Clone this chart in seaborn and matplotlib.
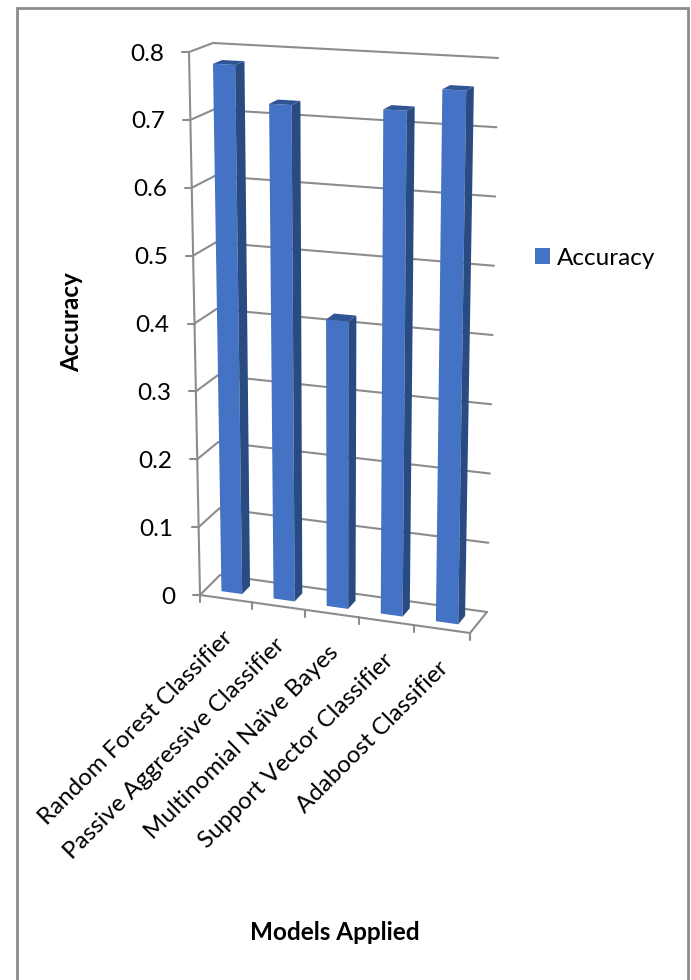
import numpy as np
import pandas as pd
import seaborn as sns
import matplotlib
import matplotlib.pyplot as plt
from matplotlib.patches import Polygon, Rectangle
from matplotlib.transforms import Transform, IdentityTransform

matplotlib.use('Agg')

# Chart data
models = ['Random Forest Classifier', 'Passive Aggressive Classifier',
          'Multinomial Naïve Bayes', 'Support Vector Classifier', 'Adaboost Classifier']
accuracy = [0.78, 0.726, 0.417, 0.728, 0.762]
y_ticks = [0, 0.1, 0.2, 0.3, 0.4, 0.5, 0.6, 0.7, 0.8]

W, H = 691, 980
GRID = '#8c8c8c'
FRONT = '#4472C4'
SIDE = '#2A4A82'
TOP = '#2F5597'

# Box corners in image pixels: (depth, height, left/right)
corners = np.array([
    [[[200, 595], [470, 633]], [[189, 52], [479, 68]]],   # front wall
    [[[220, 575], [487, 612]], [[213, 43], [498, 58]]],   # back wall
], dtype=float)


def project(x, y, z):
    # x in category units, y in accuracy units, z 0 at front and 1 at back
    x, y, z = np.asarray(x, float), np.asarray(y, float), np.asarray(z, float)
    t = (x + 0.5) / len(models)
    u = (t / (1 + 0.048 * (1 - t)))[..., None]
    v = (y / 0.8)[..., None]
    d = (z * np.ones_like(x))[..., None]
    low = corners[0, 0, 0] * (1 - u) + corners[0, 0, 1] * u
    high = corners[0, 1, 0] * (1 - u) + corners[0, 1, 1] * u
    front = low * (1 - v) + high * v
    low = corners[1, 0, 0] * (1 - u) + corners[1, 0, 1] * u
    high = corners[1, 1, 0] * (1 - u) + corners[1, 1, 1] * u
    back = low * (1 - v) + high * v
    p = front * (1 - d) + back * d
    return np.stack([p[..., 0], H - p[..., 1]], axis=-1)


class Wall(Transform):
    # maps the seaborn data coords on to a plane at fixed depth
    input_dims = 2
    output_dims = 2

    def __init__(self, z):
        super().__init__()
        self.z = z

    def transform_non_affine(self, values):
        values = np.asarray(values, float)
        return project(values[:, 0], values[:, 1], self.z)


def line3d(ax, a, b, lw=1.5):
    pts = project(np.array([a[0], b[0]]), np.array([a[1], b[1]]), np.array([a[2], b[2]]))
    ax.plot(pts[:, 0], pts[:, 1], color=GRID, lw=lw, transform=IdentityTransform(),
            clip_on=False, zorder=1, solid_capstyle='round')


sns.set_theme(style='white')
plt.rcParams['font.family'] = ['Lato', 'DejaVu Sans']

df = pd.DataFrame({'Model': models, 'Accuracy': accuracy})

fig = plt.figure(figsize=(W / 100, H / 100), dpi=100)
ax = fig.add_axes([0, 0, 1, 1])
sns.barplot(data=df, x='Model', y='Accuracy', color=FRONT, saturation=1, width=0.4,
            label='Accuracy', ax=ax, zorder=3)
ax.set_axis_off()

x_lo, x_hi = -0.5, len(models) - 0.5

# Back wall, left wall and floor
for tick in y_ticks:
    line3d(ax, (x_lo, tick, 1), (x_hi, tick, 1))
    line3d(ax, (x_lo, tick, 0), (x_lo, tick, 1))
    pts = project(np.array([x_lo]), np.array([tick]), np.array([0.0]))[0]
    ax.plot([pts[0] - 7, pts[0]], [pts[1], pts[1]], color=GRID, lw=1.5,
            transform=IdentityTransform(), clip_on=False, zorder=1)
    ax.text(pts[0] - 25, pts[1] - 2, f'{tick:g}', ha='right', va='center', fontsize=17.5,
            color='black', transform=IdentityTransform())
line3d(ax, (x_lo, 0, 0), (x_lo, 0.8, 0))
line3d(ax, (x_lo, 0, 0), (x_hi, 0, 0))
line3d(ax, (x_hi, 0, 0), (x_hi, 0, 1))

for i in range(len(models) + 1):
    pts = project(np.array([x_lo + i]), np.array([0.0]), np.array([0.0]))[0]
    ax.plot([pts[0], pts[0]], [pts[1], pts[1] - 7], color=GRID, lw=1.5,
            transform=IdentityTransform(), clip_on=False, zorder=1)

# Turn the flat seaborn bars into boxes
z_front, z_back = 0.3, 0.7
for bar in ax.patches:
    x0, x1 = bar.get_x(), bar.get_x() + bar.get_width()
    top = bar.get_height()
    bar.set_transform(Wall(z_front))
    bar.set_clip_on(False)
    bar.set_edgecolor('none')
    side = project(np.array([x1, x1, x1, x1]), np.array([0, top, top, 0]),
                   np.array([z_front, z_front, z_back, z_back]))
    lid = project(np.array([x0, x1, x1, x0]), np.array([top, top, top, top]),
                  np.array([z_front, z_front, z_back, z_back]))
    for verts, colour in ((side, SIDE), (lid, TOP)):
        ax.add_patch(Polygon(verts, closed=True, facecolor=colour, edgecolor='none',
                             transform=IdentityTransform(), clip_on=False, zorder=3))

# Category labels
for i, name in enumerate(models):
    pts = project(np.array([float(i)]), np.array([0.0]), np.array([0.0]))[0]
    ax.text(pts[0] - 4, pts[1] - 28, name, rotation=45, rotation_mode='anchor', ha='right',
            va='top', fontsize=17.4, color='black', transform=IdentityTransform())

ax.text(335, H - 932, 'Models Applied', ha='center', va='center', fontsize=17.5,
        fontweight='bold', color='black', transform=IdentityTransform())
ax.text(72, H - 322, 'Accuracy', ha='center', va='center', rotation=90, fontsize=17.5,
        fontweight='bold', color='black', transform=IdentityTransform())

handles, labels = ax.get_legend_handles_labels()
ax.legend(handles[:1], labels[:1], loc='center left', bbox_to_anchor=(535 / W, 1 - 258 / H),
          frameon=False, fontsize=17.5, handlelength=0.62, handleheight=0.62,
          handletextpad=0.3, borderpad=0, borderaxespad=0, labelcolor='black')

# Chart frame, the bottom edge falls outside the picture
fig.add_artist(Rectangle((16.5 / W, 1 - 990 / H), (688 - 16.5) / W, (990 - 8) / H, fill=False,
                         edgecolor='#8c8c8c', lw=2, transform=fig.transFigure))

fig.savefig('out.png', dpi=100)
